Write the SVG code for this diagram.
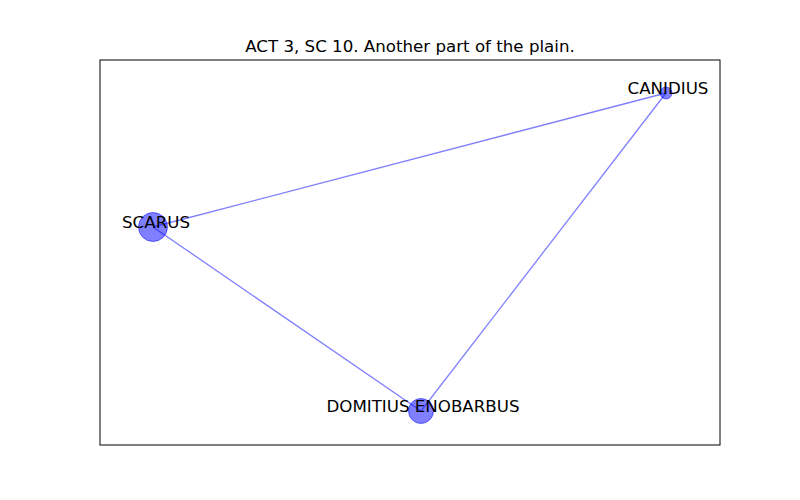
<svg xmlns="http://www.w3.org/2000/svg" width="800" height="500" viewBox="0 0 800 500">
<style>
text{font-family:"DejaVu Sans",sans-serif;font-size:16.67px;fill:#000;text-anchor:middle}
.e{stroke:#0000ff;stroke-opacity:0.5;stroke-width:1.3;fill:none}
.n{fill:#0000ff;fill-opacity:0.5;stroke:#0000ff;stroke-opacity:0.5;stroke-width:1}
</style>
<rect x="0" y="0" width="800" height="500" fill="#fff"/>
<text x="410" y="52">ACT 3, SC 10. Another part of the plain.</text>
<rect x="100" y="60" width="620" height="385" fill="none" stroke="#000" stroke-width="1"/>
<g id="connectors">
<line class="e" x1="666" y1="93" x2="153" y2="227"/>
<line class="e" x1="666" y1="93" x2="421" y2="411"/>
<line class="e" x1="153" y1="227" x2="421" y2="411"/>
</g>
<g id="canidius"><circle class="n" cx="666" cy="93" r="6"/><text x="668" y="94">CANIDIUS</text></g>
<g id="scarus"><circle class="n" cx="153" cy="227" r="14.5"/><text x="156" y="228">SCARUS</text></g>
<g id="domitius"><circle class="n" cx="421" cy="411" r="12.5"/><text x="423" y="412">DOMITIUS ENOBARBUS</text></g>
</svg>
